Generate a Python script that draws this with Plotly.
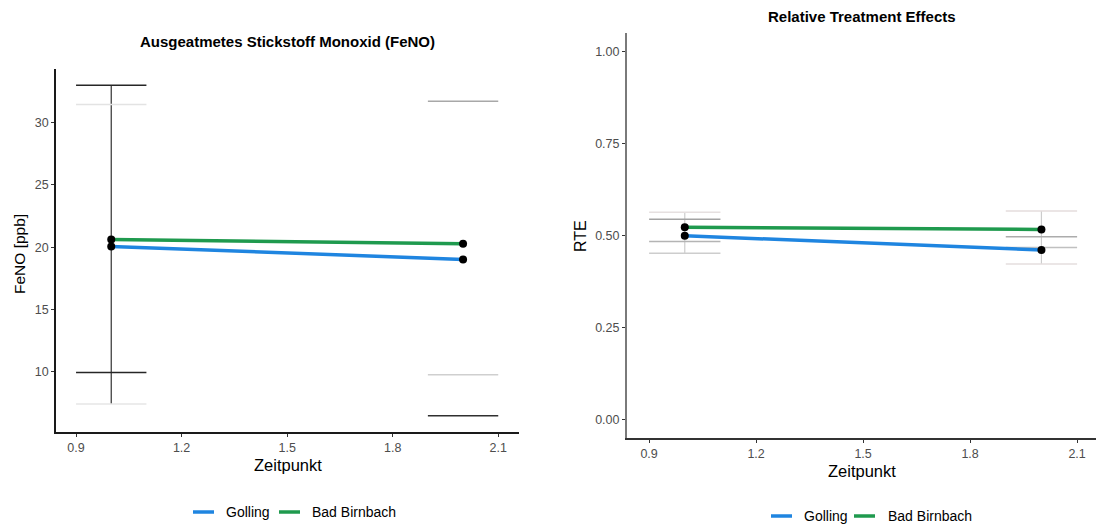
import plotly.graph_objects as go

# ---- data -------------------------------------------------------------
zeitpunkt = [1, 2]
x_ticks = [0.9, 1.2, 1.5, 1.8, 2.1]
x_tick_labels = ["0.9", "1.2", "1.5", "1.8", "2.1"]
groups = ["Golling", "Bad Birnbach"]

# FeNO [ppb]
feno_golling = [20.06, 19.01]
feno_bad_birnbach = [20.62, 20.27]
feno_y_ticks = [10, 15, 20, 25, 30]

# FeNO interval bounds (None = bound not drawn)
feno_ci_a_lo = [9.92, 6.44]
feno_ci_a_hi = [33.03, None]
feno_ci_b_lo = [7.38, 9.73]
feno_ci_b_hi = [31.48, 31.74]

# Relative treatment effects
rte_golling = [0.500, 0.461]
rte_bad_birnbach = [0.523, 0.517]
rte_golling_lo = [0.452, 0.423]
rte_golling_hi = [0.545, 0.497]
rte_bad_birnbach_lo = [0.484, 0.468]
rte_bad_birnbach_hi = [0.564, 0.567]
rte_y_ticks = [0.0, 0.25, 0.5, 0.75, 1.0]
rte_y_tick_labels = ["0.00", "0.25", "0.50", "0.75", "1.00"]

# ---- style ------------------------------------------------------------
W, H = 1096, 529
FONT = "Liberation Sans, Arial, sans-serif"
BLUE = "#1f85e0"
GREEN = "#1f9a4e"
CAP_HALF = 0.1

# cap colours, one per (bound, timepoint)
feno_a_lo_col = ["#262626", "#303030"]
feno_a_hi_col = ["#262626", "#262626"]
feno_b_lo_col = ["#e6e6e6", "#cfcfcf"]
feno_b_hi_col = ["#e3e3e3", "#a8a8a8"]
feno_vline_col = ["#333333", None]

rte_g_lo_col = ["#cdcdcd", "#e4dede"]
rte_g_hi_col = ["#a3a3a3", "#acacac"]
rte_b_lo_col = ["#b4b4b4", "#c0c0c0"]
rte_b_hi_col = ["#e6e0e0", "#e4dddd"]
rte_vline_col = ["#cccccc", "#cccccc"]


def px(x):
    return x / W


def py(y):
    return 1 - y / H


fig = go.Figure()


def add_caps(xs, ys, cols, xa, ya):
    for x, y, c in zip(xs, ys, cols):
        if y is None or c is None:
            continue
        fig.add_trace(go.Scatter(
            x=[x - CAP_HALF, x + CAP_HALF], y=[y, y], mode="lines",
            line=dict(color=c, width=1.5), xaxis=xa, yaxis=ya,
            hoverinfo="skip", showlegend=False))


def add_vlines(xs, los, his, cols, xa, ya):
    for x, lo, hi, c in zip(xs, los, his, cols):
        if c is None:
            continue
        fig.add_trace(go.Scatter(
            x=[x, x], y=[lo, hi], mode="lines",
            line=dict(color=c, width=1.2), xaxis=xa, yaxis=ya,
            hoverinfo="skip", showlegend=False))


# ---- left panel: FeNO -------------------------------------------------
feno_span_lo = [min(v for v in pair if v is not None) for pair in zip(feno_ci_a_lo, feno_ci_b_lo)]
feno_span_hi = [max(v for v in pair if v is not None) for pair in zip(feno_ci_a_hi, feno_ci_b_hi)]
add_vlines(zeitpunkt, feno_span_lo, feno_span_hi, feno_vline_col, "x", "y")
add_caps(zeitpunkt, feno_ci_b_lo, feno_b_lo_col, "x", "y")
add_caps(zeitpunkt, feno_ci_b_hi, feno_b_hi_col, "x", "y")
add_caps(zeitpunkt, feno_ci_a_lo, feno_a_lo_col, "x", "y")
add_caps(zeitpunkt, feno_ci_a_hi, feno_a_hi_col, "x", "y")

for vals, col in [(feno_golling, BLUE), (feno_bad_birnbach, GREEN)]:
    fig.add_trace(go.Scatter(x=zeitpunkt, y=vals, mode="lines",
                             line=dict(color=col, width=3.5),
                             xaxis="x", yaxis="y", showlegend=False))
for vals in [feno_golling, feno_bad_birnbach]:
    fig.add_trace(go.Scatter(x=zeitpunkt, y=vals, mode="markers",
                             marker=dict(color="black", size=8),
                             xaxis="x", yaxis="y", showlegend=False))

# ---- right panel: RTE -------------------------------------------------
rte_span_lo = [min(a, b) for a, b in zip(rte_golling_lo, rte_bad_birnbach_lo)]
rte_span_hi = [max(a, b) for a, b in zip(rte_golling_hi, rte_bad_birnbach_hi)]
add_vlines(zeitpunkt, rte_span_lo, rte_span_hi, rte_vline_col, "x2", "y2")
add_caps(zeitpunkt, rte_bad_birnbach_hi, rte_b_hi_col, "x2", "y2")
add_caps(zeitpunkt, rte_golling_lo, rte_g_lo_col, "x2", "y2")
add_caps(zeitpunkt, rte_bad_birnbach_lo, rte_b_lo_col, "x2", "y2")
add_caps(zeitpunkt, rte_golling_hi, rte_g_hi_col, "x2", "y2")

for vals, col in [(rte_golling, BLUE), (rte_bad_birnbach, GREEN)]:
    fig.add_trace(go.Scatter(x=zeitpunkt, y=vals, mode="lines",
                             line=dict(color=col, width=3.5),
                             xaxis="x2", yaxis="y2", showlegend=False))
for vals in [rte_golling, rte_bad_birnbach]:
    fig.add_trace(go.Scatter(x=zeitpunkt, y=vals, mode="markers",
                             marker=dict(color="black", size=8),
                             xaxis="x2", yaxis="y2", showlegend=False))

# ---- axes -------------------------------------------------------------
tickfont = dict(family=FONT, size=12.5, color="#4d4d4d")
common = dict(showgrid=False, zeroline=False, showline=True, ticks="outside",
              ticklen=3, tickwidth=1, tickfont=tickfont)

fig.update_layout(
    width=W, height=H, margin=dict(l=0, r=0, t=0, b=0),
    paper_bgcolor="white", plot_bgcolor="white", showlegend=False,
    xaxis=dict(domain=[px(56), px(519)], range=[0.843, 2.159], anchor="y",
               tickvals=x_ticks, ticktext=x_tick_labels,
               linecolor="#1a1a1a", linewidth=1.6, tickcolor="#333333", **common),
    yaxis=dict(domain=[py(432), py(69)], range=[5.13, 34.33], anchor="x",
               tickvals=feno_y_ticks, linecolor="#1a1a1a", linewidth=1.6,
               tickcolor="#333333", **common),
    xaxis2=dict(domain=[px(627), 1.0], range=[0.838, 2.153], anchor="y2",
                tickvals=x_ticks, ticktext=x_tick_labels,
                linecolor="#333333", linewidth=1.6, tickcolor="#333333", **common),
    yaxis2=dict(domain=[py(438.1), py(33.3)], range=[-0.05, 1.05], anchor="x2",
                tickvals=rte_y_ticks, ticktext=rte_y_tick_labels,
                linecolor="#7a7a7a", linewidth=2, tickcolor="#333333", **common),
)

# ---- titles and axis labels ---------------------------------------------
ann = []


def text(x, y, s, size, bold=False, angle=0, color="black"):
    ann.append(dict(x=px(x), y=py(y), xref="paper", yref="paper", text=f"<b>{s}</b>" if bold else s,
                    showarrow=False, textangle=angle, xanchor="center", yanchor="middle",
                    font=dict(family=FONT, size=size, color=color)))


text(287.5, 42, "Ausgeatmetes Stickstoff Monoxid (FeNO)", 15, bold=True)
text(862, 17, "Relative Treatment Effects", 15, bold=True)
text(287.5, 465, "Zeitpunkt", 16.5)
text(862, 471, "Zeitpunkt", 16.5)
text(20, 254, "FeNO [ppb]", 15.5, angle=-90)
text(580, 236, "RTE", 16, angle=-90)

# ---- legends (one per panel) --------------------------------------------
shapes = []
legend_cols = [BLUE, GREEN]
legend_layouts = [
    (512, [(193, 214, 224), (279, 300, 310)]),
    (516, [(771, 792, 802), (854, 875, 886)]),
]
for ly, items in legend_layouts:
    for (x0, x1, tx), name, col in zip(items, groups, legend_cols):
        shapes.append(dict(type="line", xref="paper", yref="paper",
                           x0=px(x0), x1=px(x1), y0=py(ly), y1=py(ly),
                           line=dict(color=col, width=3.5)))
        ann.append(dict(x=px(tx), y=py(ly), xref="paper", yref="paper", text=name,
                        showarrow=False, xanchor="left", yanchor="middle",
                        font=dict(family=FONT, size=14, color="black")))

fig.update_layout(annotations=ann, shapes=shapes)
fig.write_html("out.html")
